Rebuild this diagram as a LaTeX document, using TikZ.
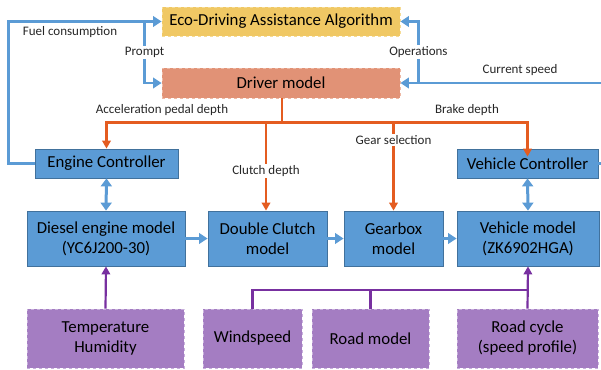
\documentclass[tikz,border=0pt]{standalone}
\usepackage{fontspec}
\setmainfont{Carlito}
\usetikzlibrary{arrows.meta}
\definecolor{ecofill}{RGB}{240,200,100}
\definecolor{ecoline}{RGB}{246,220,150}
\definecolor{drvfill}{RGB}{225,146,118}
\definecolor{drvline}{RGB}{238,185,165}
\definecolor{blkfill}{RGB}{91,155,213}
\definecolor{blkline}{RGB}{65,113,156}
\definecolor{envfill}{RGB}{164,125,194}
\definecolor{envline}{RGB}{200,176,220}
\definecolor{arrblue}{RGB}{91,155,213}
\definecolor{arrorange}{RGB}{228,92,32}
\definecolor{arrpurple}{RGB}{120,48,160}
\begin{document}
\begin{tikzpicture}[x=1pt, y=-1pt,
        box/.style={minimum width=#1, inner sep=0pt, align=center,
          font=\fontsize{16.8}{20}\selectfont},
        blk/.style={box=#1, fill=blkfill, draw=blkline, line width=0.8pt},
        env/.style={box=#1, fill=envfill, draw=envline, dashed, line width=0.8pt, minimum height=59pt},
        lbl/.style={font=\fontsize{13}{15}\selectfont, text=black!85, inner sep=1.5pt},
        bl/.style={draw=arrblue, line width=2.6pt, -{Triangle[width=10.5pt,length=8.5pt]}},
        dbl/.style={draw=arrblue, line width=3pt, {Triangle[width=11pt,length=8pt]}-{Triangle[width=11pt,length=8pt]}},
        ora/.style={draw=arrorange, line width=2.2pt},
        pur/.style={draw=arrpurple, line width=2.2pt}
      ]
      \useasboundingbox (0,0) rectangle (601,369);
      % top: algorithm and driver
      \node[box=238pt, minimum height=29pt, fill=ecofill, draw=ecoline, dashed, line width=0.8pt] (eco) at (281,21.5) {Eco-Driving Assistance Algorithm};
      \node[box=238pt, minimum height=30pt, fill=drvfill, draw=drvline, dashed, line width=0.8pt] (drv) at (281,83) {Driver model};
      % controllers
      \node[blk=143pt, minimum height=29pt] (engc) at (106.5,163.5) {Engine Controller};
      \node[blk=141pt, minimum height=29pt] (vehc) at (527.5,163.5) {Vehicle Controller};
      % plant models
      \foreach \n/\x/\w/\t in {dsl/106/158/{Diesel engine model\\(YC6J200-30)},
                               clt/267.5/119/{Double Clutch\\model},
                               gbx/393.5/99/{Gearbox\\model},
                               veh/528/142/{Vehicle model\\(ZK6902HGA)}} {
        \node[blk=\w pt, minimum height=55pt] (\n) at (\x,238.5) {\t};
      }
      % environment
      \foreach \n/\x/\w/\t in {tmp/105.5/157/{Temperature\\Humidity},
                               wnd/252.5/99/{Windspeed},
                               rd/370.5/117/{Road model},
                               cyc/527.5/141/{Road cycle\\(speed profile)}} {
        \node[env=\w pt] (\n) at (\x,338.5) {\t};
      }
      % blue feedback loops
      \draw[bl] (engc.west) -- ++(-26,0) |- (eco.west);
      \node[lbl] (fuel) at (70,32) {Fuel consumption};
      \draw[bl] ([xshift=-17pt]eco.west) |- (drv.west) node[lbl, pos=0.25, fill=white] (prm) {Prompt};
      \draw[bl] (vehc.east) -- ++(8,0) |- (drv.east);
      \node[lbl] (spd) at (520,70) {Current speed};
      \draw[bl] ([xshift=18pt]drv.east) |- (eco.east) node[lbl, pos=0.25, fill=white] (ops) {Operations};
      % orange driver commands
      \draw[ora] (drv.south) ++(1,0) -- ++(0,24) coordinate (ob);
      \draw[ora, -{Triangle[width=8.5pt,length=8pt]}] (ob) -| (engc.north);
      \draw[ora, -{Triangle[width=8.5pt,length=8pt]}, shorten >=-8pt] (ob) -| (vehc.north);
      \draw[ora, -{Triangle[width=8.5pt,length=8pt]}] (ob -| clt.north) ++(-1.5,0) -- ([xshift=-1.5pt]clt.north) node[lbl, pos=0.55, fill=white] (cd) {Clutch depth};
      \draw[ora, -{Triangle[width=8.5pt,length=8pt]}] (ob -| gbx.north) -- (gbx.north) node[lbl, pos=0.2, fill=white] (gs) {Gear selection};
      \node[lbl] (acc) at (162,110) {Acceleration pedal depth};
      \node[lbl] (brk) at (467,110) {Brake depth};
      % blue signal flow
      \draw[dbl] (engc.south) -- (dsl.north);
      \draw[dbl] (vehc.south) -- (veh.north);
      \draw[bl] (dsl.east) -- (clt.west);
      \draw[bl] (clt.east) -- (gbx.west);
      \draw[bl] (gbx.east) -- (veh.west);
      % purple environment inputs
      \draw[pur, -{Triangle[width=8.5pt,length=8pt]}] (tmp.north) -- (dsl.south);
      \coordinate (pb) at (528,290);
      \draw[pur] (wnd.north) |- (pb);
      \draw[pur] (rd.north) -- (rd.north |- pb);
      \draw[pur, -{Triangle[width=8.5pt,length=8pt]}] (cyc.north) -- (veh.south);
    \end{tikzpicture}
\end{document}
